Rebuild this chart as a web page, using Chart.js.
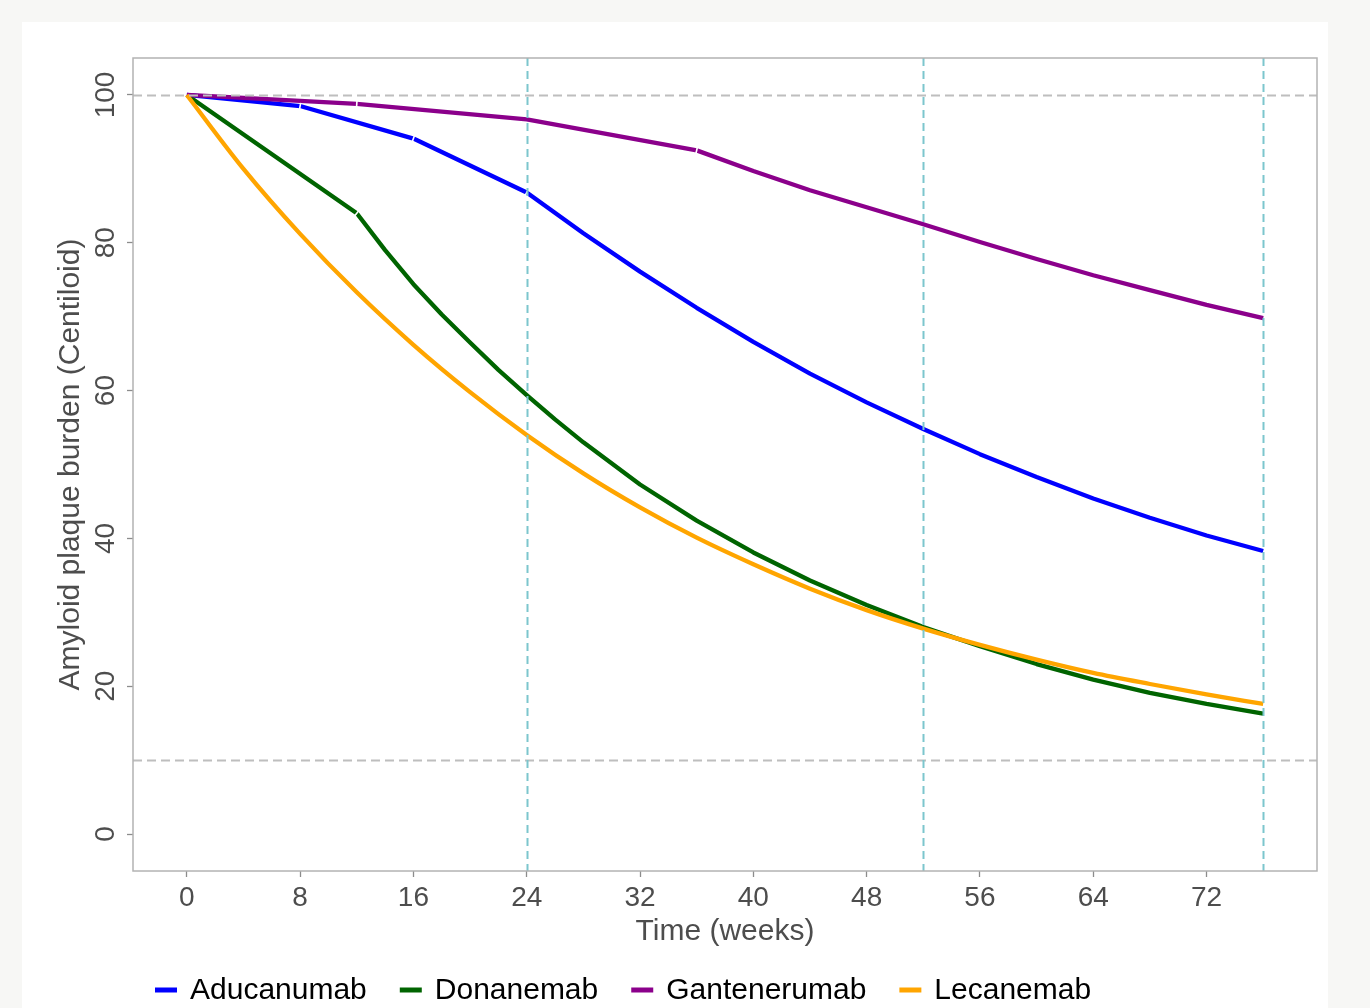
<!DOCTYPE html>
<html><head><meta charset="utf-8">
<script src="https://cdn.jsdelivr.net/npm/chart.js@4/dist/chart.umd.min.js"></script>
<style>
html,body{margin:0;padding:0;background:#f7f7f5;width:1370px;height:1008px;overflow:hidden}
#panel{position:absolute;left:22px;top:22px;width:1306px;height:986px;background:#fff}
#wrap{position:absolute;left:0;top:0;width:1370px;height:1008px}
</style></head><body>
<div id="panel"></div>
<div id="wrap"><canvas id="c" width="1370" height="1008"></canvas></div>
<script>
// ---- data ----
const seriesNames = ['Aducanumab', 'Donanemab', 'Gantenerumab', 'Lecanemab'];
const seriesColors = ['#0000ff', '#006400', '#8b008b', '#ffa500'];

const aducanumabWeeks  = [0, 8, 16, 24, 28, 32, 36, 40, 44, 48, 52, 56, 60, 64, 68, 72, 76];
const aducanumabValues = [100, 98.5, 94.1, 86.8, 81.3, 76.1, 71.2, 66.6, 62.3, 58.4, 54.8, 51.4, 48.3, 45.4, 42.8, 40.4, 38.3];

const donanemabWeeks  = [0, 12, 14, 16, 18, 20, 22, 24, 26, 28, 32, 36, 40, 44, 48, 52, 56, 60, 64, 68, 72, 76];
const donanemabValues = [100, 84.0, 79.0, 74.4, 70.3, 66.5, 62.8, 59.4, 56.1, 53.0, 47.3, 42.4, 38.1, 34.3, 31.0, 28.0, 25.4, 23.0, 20.9, 19.1, 17.6, 16.3];

const gantenerumabWeeks  = [0, 12, 24, 36, 40, 44, 48, 52, 56, 60, 64, 68, 72, 76];
const gantenerumabValues = [100, 98.8, 96.7, 92.5, 89.7, 87.1, 84.8, 82.5, 80.1, 77.8, 75.6, 73.6, 71.6, 69.8];

const lecanemabWeeks  = [0, 4, 8, 12, 16, 20, 24, 28, 32, 36, 40, 44, 48, 52, 56, 60, 64, 68, 72, 76];
const lecanemabValues = [100, 90.0, 81.2, 73.3, 66.2, 59.8, 54.0, 48.8, 44.2, 40.1, 36.5, 33.2, 30.3, 27.8, 25.6, 23.6, 21.8, 20.3, 18.9, 17.6];

// weeks where a series shows a small white break in its line
const aducanumabKnots = [8, 16, 24];
const donanemabKnots = [12];
const gantenerumabKnots = [12, 36];
const lecanemabKnots = [];

const xTickValues = [0, 8, 16, 24, 32, 40, 48, 56, 64, 72];
const yTickValues = [0, 20, 40, 60, 80, 100];
const horizontalRefs = [100, 10];
const verticalRefs = [24, 52, 76];

const xTitle = 'Time (weeks)';
const yTitle = 'Amyloid plaque burden (Centiloid)';

// ---- build ----
function pts(ws, vs) { return ws.map((w, i) => ({x: w, y: vs[i]})); }
const weekLists = [aducanumabWeeks, donanemabWeeks, gantenerumabWeeks, lecanemabWeeks];
const valueLists = [aducanumabValues, donanemabValues, gantenerumabValues, lecanemabValues];
const knotLists = [aducanumabKnots, donanemabKnots, gantenerumabKnots, lecanemabKnots];

const FONT = "'Liberation Sans', Arial, sans-serif";

const datasets = seriesNames.map((n, i) => ({
  label: n,
  data: pts(weekLists[i], valueLists[i]),
  borderColor: seriesColors[i],
  backgroundColor: seriesColors[i],
  borderWidth: 4.3,
  pointRadius: 0,
  tension: 0,
  cubicInterpolationMode: i === 3 ? 'monotone' : 'default',
  borderCapStyle: 'butt',
  borderJoinStyle: 'round',
  fill: false,
  order: 4 - i
}));

const knotPlugin = {
  id: 'knots',
  afterDatasetsDraw(chart) {
    const {ctx, scales: {x, y}} = chart;
    ctx.save();
    ctx.strokeStyle = '#ffffff';
    ctx.lineWidth = 1.6;
    knotLists.forEach((ks, si) => {
      const ws = weekLists[si], vs = valueLists[si];
      ks.forEach(k => {
        const i = ws.indexOf(k);
        if (i <= 0 || i >= ws.length - 1) return;
        const px = x.getPixelForValue(ws[i]), py = y.getPixelForValue(vs[i]);
        const ax = x.getPixelForValue(ws[i - 1]), ay = y.getPixelForValue(vs[i - 1]);
        const bx = x.getPixelForValue(ws[i + 1]), by = y.getPixelForValue(vs[i + 1]);
        let dx = (bx - ax), dy = (by - ay);
        const L = Math.hypot(dx, dy) || 1; dx /= L; dy /= L;
        const nx = -dy, ny = dx, h = 3.2;
        ctx.beginPath();
        ctx.moveTo(px - nx * h, py - ny * h);
        ctx.lineTo(px + nx * h, py + ny * h);
        ctx.stroke();
      });
    });
    ctx.restore();
  }
};

const refPlugin = {
  id: 'refs',
  afterDatasetsDraw(chart) {
    const {ctx, chartArea: a, scales: {x, y}} = chart;
    ctx.save();
    ctx.lineWidth = 2;
    ctx.strokeStyle = '#bebebe';
    ctx.setLineDash([9, 5]);
    horizontalRefs.forEach(v => {
      const py = Math.round(y.getPixelForValue(v)) + 0.5;
      ctx.beginPath(); ctx.moveTo(a.left, py); ctx.lineTo(a.right, py); ctx.stroke();
    });
    ctx.strokeStyle = '#7cc6cd';
    ctx.setLineDash([8, 5]);
    verticalRefs.forEach(v => {
      const px = Math.round(x.getPixelForValue(v)) + 0.5;
      ctx.beginPath(); ctx.moveTo(px, a.top); ctx.lineTo(px, a.bottom); ctx.stroke();
    });
    ctx.restore();
  }
};

const framePlugin = {
  id: 'frame',
  afterDraw(chart) {
    const {ctx, chartArea: a} = chart;
    ctx.save();
    ctx.strokeStyle = '#b3b3b3';
    ctx.lineWidth = 1.5;
    ctx.strokeRect(a.left, a.top, a.right - a.left, a.bottom - a.top);
    ctx.restore();
  }
};

const legendPlugin = {
  id: 'bottomLegend',
  afterDraw(chart) {
    const {ctx} = chart;
    ctx.save();
    ctx.font = '30px ' + FONT;
    ctx.textBaseline = 'middle';
    ctx.textAlign = 'left';
    let x = 155;
    const y = 990;
    chart.data.datasets.forEach(ds => {
      ctx.strokeStyle = ds.borderColor;
      ctx.lineWidth = 5;
      ctx.setLineDash([]);
      ctx.beginPath(); ctx.moveTo(x, y); ctx.lineTo(x + 22, y); ctx.stroke();
      ctx.fillStyle = '#000000';
      ctx.fillText(ds.label, x + 35, y + 1);
      x += 35 + ctx.measureText(ds.label).width + 33;
    });
    ctx.restore();
  }
};

new Chart(document.getElementById('c'), {
  type: 'line',
  data: {datasets},
  options: {
    responsive: false,
    animation: false,
    events: [],
    layout: {padding: {left: 0, top: 58, right: 53, bottom: 58}},
    plugins: {legend: {display: false}, tooltip: {enabled: false}},
    scales: {
      x: {
        type: 'linear',
        min: -3.8, max: 79.8,
        afterBuildTicks: s => { s.ticks = xTickValues.map(v => ({value: v})); },
        afterFit: s => { s.height = 79; },
        grid: {drawOnChartArea: false, drawTicks: true, tickLength: 6, tickColor: '#8c8c8c', tickWidth: 1.3},
        border: {display: false},
        ticks: {font: {family: FONT, size: 28}, color: '#4d4d4d', padding: 4, maxRotation: 0, minRotation: 0},
        title: {display: true, text: xTitle, font: {family: FONT, size: 30}, color: '#4d4d4d', padding: {top: 0, bottom: 0}}
      },
      y: {
        type: 'linear',
        min: -5, max: 105,
        afterBuildTicks: s => { s.ticks = yTickValues.map(v => ({value: v})); },
        afterFit: s => { s.width = 133; },
        grid: {drawOnChartArea: false, drawTicks: true, tickLength: 6, tickColor: '#8c8c8c', tickWidth: 1.3},
        border: {display: false},
        ticks: {font: {family: FONT, size: 28}, color: '#4d4d4d', padding: -3, minRotation: 90, maxRotation: 90, crossAlign: 'center'},
        title: {display: true, text: yTitle, font: {family: FONT, size: 30}, color: '#4d4d4d', padding: {top: 53, bottom: 0}}
      }
    }
  },
  plugins: [knotPlugin, refPlugin, framePlugin, legendPlugin]
});
</script>
</body></html>
